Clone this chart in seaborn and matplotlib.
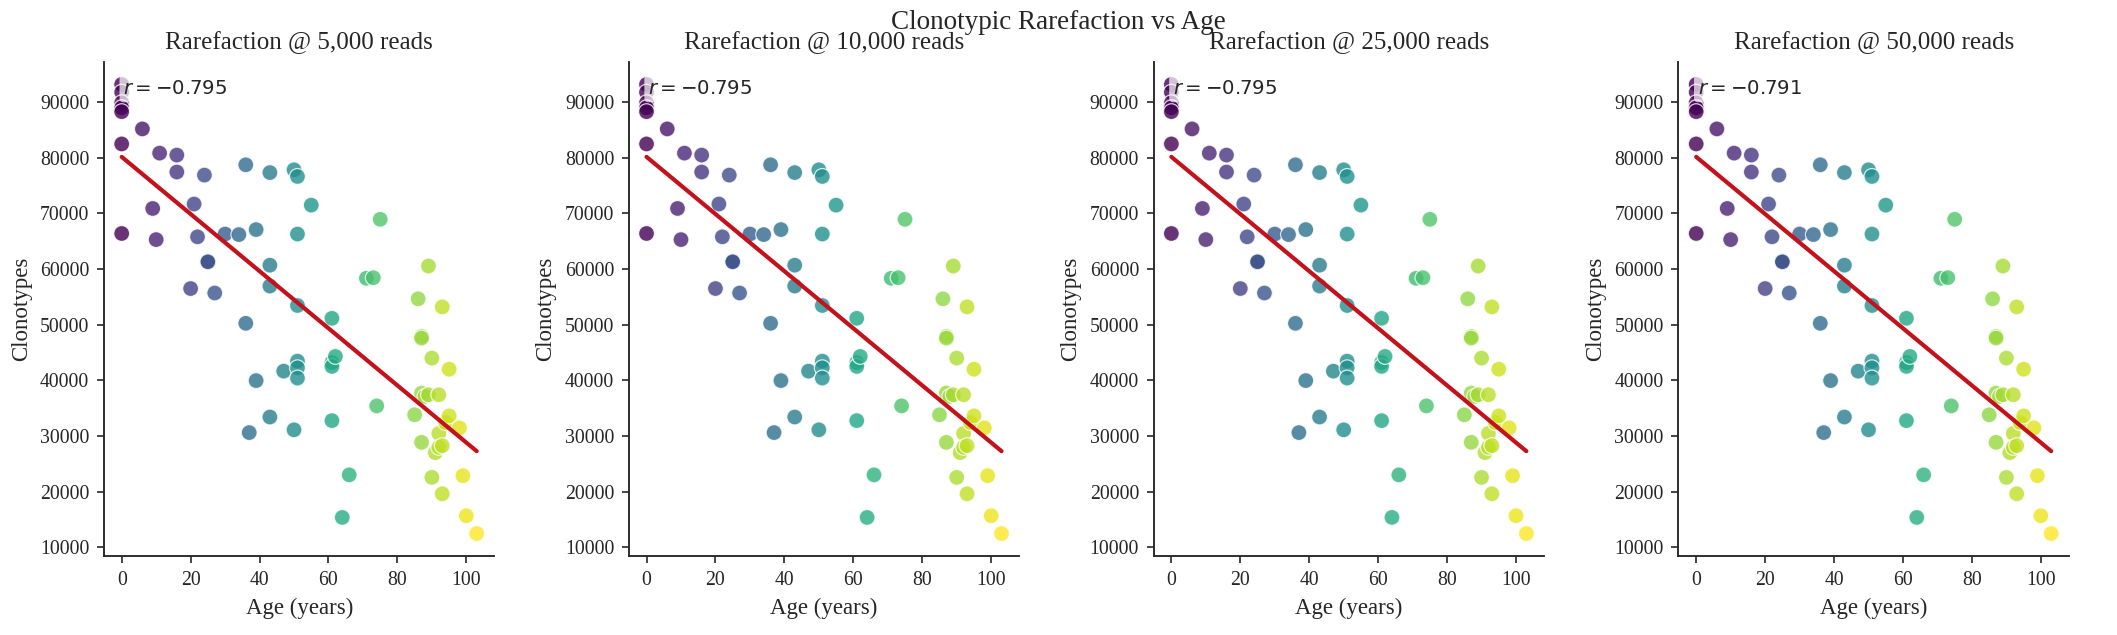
import numpy as np
import pandas as pd
import matplotlib
matplotlib.use("Agg")
import matplotlib.pyplot as plt
import seaborn as sns

# Values (same cohort in each panel)
age = [0, 0, 0, 0, 0, 0, 0, 6, 9, 10, 11, 16, 16, 20, 21, 22, 24, 25, 25, 27,
       30, 34, 36, 36, 37, 39, 39, 43, 43, 43, 43, 47, 50, 50, 51, 51, 51, 51,
       51, 51, 55, 61, 61, 61, 61, 62, 64, 66, 71, 73, 74, 75, 85, 86, 87, 87,
       87, 87, 88, 89, 89, 90, 90, 91, 92, 92, 92, 93, 93, 93, 94, 95, 95, 98,
       99, 100, 103]
clonotypes = [93200, 91800, 89900, 89000, 88300, 82500, 66400, 85200, 70900,
              65300, 80850, 80500, 77450, 56500, 71700, 65800, 76900, 61400,
              61300, 55700, 66300, 66200, 78750, 50250, 30600, 67100, 39950,
              77350, 60700, 56950, 33400, 41650, 77850, 31100, 76650, 66300,
              53450, 43450, 42250, 40400, 71500, 51150, 43200, 42500, 32750,
              44300, 15350, 23000, 58350, 58450, 35400, 68950, 33800, 54650,
              47900, 47600, 37700, 28850, 37100, 60550, 37400, 44000, 22550,
              27000, 37400, 30450, 27950, 53200, 28250, 19600, 32400, 42000,
              33600, 31450, 22850, 15650, 12450]
depths = ["5,000", "10,000", "25,000", "50,000"]
r_values = [-0.795, -0.795, -0.795, -0.791]

df = pd.DataFrame({"Age": age, "Clonotypes": clonotypes})

sns.set_style("ticks")
plt.rcParams["font.family"] = "serif"
plt.rcParams["font.serif"] = ["Liberation Serif", "DejaVu Serif"]
plt.rcParams["mathtext.fontset"] = "dejavusans"
plt.rcParams["xtick.major.size"] = 3.5
plt.rcParams["ytick.major.size"] = 3.5
plt.rcParams["axes.linewidth"] = 0.9

fig, axes = plt.subplots(1, 4, figsize=(2117 / 150, 635 / 150), dpi=150)
fig.subplots_adjust(left=0.0491, right=0.9773, bottom=0.1244, top=0.9024, wspace=0.344)

for ax, depth, r in zip(axes, depths, r_values):
    sns.scatterplot(data=df, x="Age", y="Clonotypes", hue="Age", palette="viridis",
                    s=58, alpha=0.8, edgecolor="white", linewidth=0.6,
                    legend=False, ax=ax)
    sns.regplot(data=df, x="Age", y="Clonotypes", scatter=False, ci=None,
                color="#c4121c", line_kws={"linewidth": 2.0}, ax=ax)
    ax.text(0.05, 0.965, f"$r = {r:.3f}$", transform=ax.transAxes,
            fontsize=9.5, family="DejaVu Sans", va="top", ha="left",
            bbox=dict(boxstyle="round,pad=0.2", facecolor="white", alpha=0.7,
                      edgecolor="none"))
    ax.set_title(f"Rarefaction @ {depth} reads", fontsize=12)
    ax.set_xlabel("Age (years)", fontsize=11)
    ax.set_ylabel("Clonotypes", fontsize=11)
    ax.set_xticks([0, 20, 40, 60, 80, 100])
    ax.set_yticks(range(10000, 90001, 10000))
    ax.tick_params(labelsize=9.5)
    sns.despine(ax=ax)

fig.suptitle("Clonotypic Rarefaction vs Age", fontsize=13, y=0.985)
fig.savefig("out.png", dpi=150)
